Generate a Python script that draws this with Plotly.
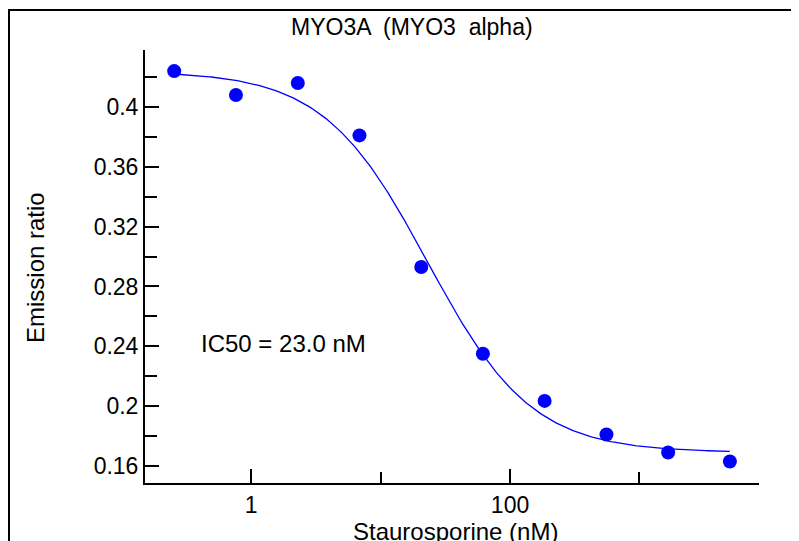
import numpy as np
import plotly.graph_objects as go

# ---- data ----
conc_nM = [0.254, 0.762, 2.29, 6.86, 20.6, 61.7, 185.0, 556.0, 1667.0, 5000.0]
emission_ratio = [0.424, 0.408, 0.416, 0.381, 0.293, 0.235, 0.2035, 0.181, 0.169, 0.163]

# 4-parameter logistic fit parameters (as drawn in the reference)
fit_top = 0.424
fit_bottom = 0.169
fit_ic50 = 23.0
fit_hill = 1.08

title_text = "MYO3A  (MYO3  alpha)"
x_title = "Staurosporine (nM)"
y_title = "Emission ratio"
ic50_text = "IC50 = 23.0 nM"
x_tickvals = [1, 100]
x_ticktext = ["1", "100"]
x_minor_vals = [10, 1000]
y_tickvals = [0.16, 0.2, 0.24, 0.28, 0.32, 0.36, 0.4]
y_ticktext = ["0.16", "0.2", "0.24", "0.28", "0.32", "0.36", "0.4"]

# fitted curve
xc = np.logspace(np.log10(conc_nM[0]), np.log10(conc_nM[-1]), 300)
yc = fit_bottom + (fit_top - fit_bottom) / (1 + (xc / fit_ic50) ** fit_hill)

# the page body adds an 8px offset; size the figure to fill the rest of the window
OFF = 8
W, H = 799 - OFF, 541 - OFF
L, R, T, B = 137, 40, 42, 58
pw, ph = W - L - R, H - T - B


def px(xw):
    return (xw - OFF - L) / pw


def py(yw):
    return (H - B - (yw - OFF)) / ph


FONT = "Liberation Sans, Arial, sans-serif"
fs = 23

fig = go.Figure()
fig.add_trace(go.Scatter(x=xc, y=yc, mode="lines",
                         line=dict(color="#0000FF", width=1.3),
                         hoverinfo="skip", showlegend=False))
fig.add_trace(go.Scatter(x=conc_nM, y=emission_ratio, mode="markers",
                         marker=dict(color="#0000FF", size=14, line=dict(width=0)),
                         showlegend=False))

fig.update_layout(
    width=W, height=H,
    margin=dict(l=L, r=R, t=T, b=B, pad=0),
    paper_bgcolor="white", plot_bgcolor="white",
    font=dict(family=FONT, size=fs, color="black"),
    showlegend=False,
)

fig.update_xaxes(
    type="log", range=[-0.821, 3.924],
    showgrid=False, zeroline=False,
    showline=True, linecolor="black", linewidth=2,
    ticks="inside", ticklen=14, tickwidth=2, tickcolor="black",
    tickmode="array", tickvals=x_tickvals, ticktext=x_ticktext,
    minor=dict(tickmode="array", tickvals=x_minor_vals, ticks="inside",
               ticklen=11, tickwidth=2, tickcolor="black", showgrid=False),
    tickfont=dict(size=fs, family=FONT, color="black"),
    mirror=False,
)
fig.update_yaxes(
    range=[0.1486, 0.4381],
    showgrid=False, zeroline=False,
    showline=True, linecolor="black", linewidth=2,
    ticks="inside", ticklen=14, tickwidth=2, tickcolor="black",
    tickmode="array", tickvals=y_tickvals, ticktext=y_ticktext,
    minor=dict(dtick=0.02, tick0=0.16, ticks="inside",
               ticklen=12, tickwidth=2, tickcolor="black", showgrid=False),
    tickfont=dict(size=fs, family=FONT, color="black"),
    mirror=False,
)

# outer frame (extends beyond the visible window on the right and bottom)
fig.add_shape(type="rect", xref="paper", yref="paper",
              x0=px(9), x1=px(900), y0=py(700), y1=py(10),
              line=dict(color="black", width=2), fillcolor="rgba(0,0,0,0)",
              layer="below")

fig.add_annotation(text=title_text, xref="paper", yref="paper",
                   x=px(412), y=py(27), xanchor="center", yanchor="middle",
                   showarrow=False, font=dict(size=fs, family=FONT))
fig.add_annotation(text=x_title, xref="paper", yref="paper",
                   x=px(455), y=py(531), xanchor="center", yanchor="middle",
                   showarrow=False, font=dict(size=24, family=FONT))
fig.add_annotation(text=y_title, xref="paper", yref="paper",
                   x=px(35), y=py(268), xanchor="center", yanchor="middle",
                   textangle=-90, showarrow=False, font=dict(size=24, family=FONT))
fig.add_annotation(text=ic50_text, xref="paper", yref="paper",
                   x=px(199), y=py(343), xanchor="left", yanchor="middle",
                   showarrow=False, font=dict(size=24, family=FONT))

fig.write_html("out.html")
